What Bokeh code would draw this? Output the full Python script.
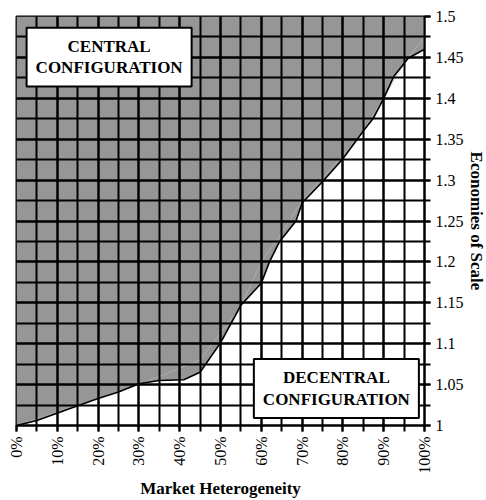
import math
from bokeh.plotting import figure
from bokeh.models import FixedTicker, Label
from bokeh.embed import file_html
from bokeh.resources import INLINE

# ---- data ----
heterogeneity = [0, 5, 15, 20, 25, 30, 35, 41, 45, 50, 55, 60, 62, 64.5, 68.5, 70,
                 75, 80, 85, 87.5, 90, 92.5, 96, 100]
economies = [1.0, 1.006, 1.024, 1.033, 1.041, 1.051, 1.055, 1.056, 1.065, 1.101,
             1.147, 1.174, 1.2, 1.225, 1.25, 1.272, 1.298, 1.326, 1.36, 1.376,
             1.4, 1.427, 1.449, 1.46]

trend_x = [0, 30, 45, 55, 60, 65, 70, 80, 85, 96, 100]
trend_y = [1.0, 1.05, 1.08, 1.146, 1.2, 1.235, 1.275, 1.33, 1.36, 1.45, 1.474]

x_major = [0, 10, 20, 30, 40, 50, 60, 70, 80, 90, 100]
x_minor = [0, 5, 10, 15, 20, 25, 30, 35, 40, 45, 50, 55, 60, 65, 70, 75, 80, 85, 90, 95, 100]
x_labels = ["0%", "10%", "20%", "30%", "40%", "50%", "60%", "70%", "80%", "90%", "100%"]

y_major = [1.0, 1.05, 1.1, 1.15, 1.2, 1.25, 1.3, 1.35, 1.4, 1.45, 1.5]
y_minor = [1.0, 1.025, 1.05, 1.075, 1.1, 1.125, 1.15, 1.175, 1.2, 1.225, 1.25, 1.275,
           1.3, 1.325, 1.35, 1.375, 1.4, 1.425, 1.45, 1.475, 1.5]
y_labels = ["1", "1.05", "1.1", "1.15", "1.2", "1.25", "1.3", "1.35", "1.4", "1.45", "1.5"]

FONT = "Liberation Serif"

p = figure(frame_width=408, frame_height=409, x_range=(0, 100), y_range=(1.0, 1.5),
           y_axis_location="right", output_backend="svg", toolbar_location=None,
           min_border_left=16, min_border_top=16, min_border_right=0, min_border_bottom=0,
           background_fill_color="white", border_fill_color="white")

# gray region (central configuration) above the boundary
top = [1.5] * len(heterogeneity)
p.varea(x=heterogeneity, y1=economies, y2=top, fill_color="#969696")
p.line(x=trend_x, y=trend_y, line_color="#b9b9b9", line_width=0.7)
p.line(x=heterogeneity, y=economies, line_color="black", line_width=1.6)

xt = FixedTicker(ticks=x_major, minor_ticks=x_minor)
yt = FixedTicker(ticks=y_major, minor_ticks=y_minor)
p.xaxis.ticker = xt
p.yaxis.ticker = yt
p.xgrid.ticker = xt
p.ygrid.ticker = yt
p.xaxis.major_label_overrides = dict(zip(x_major, x_labels))
p.yaxis.major_label_overrides = dict(zip(y_major, y_labels))

for g in (p.xgrid, p.ygrid):
    g.grid_line_color = "black"
    g.grid_line_width = 2
    g.minor_grid_line_color = "black"
    g.minor_grid_line_width = 2
    g.level = "guide"

for ax in (p.xaxis, p.yaxis):
    ax.axis_line_color = "black"
    ax.axis_line_width = 2
    ax.major_tick_line_color = "black"
    ax.major_tick_line_width = 2
    ax.minor_tick_line_color = "black"
    ax.minor_tick_line_width = 2
    ax.major_tick_in = 0
    ax.major_tick_out = 6
    ax.minor_tick_in = 0
    ax.minor_tick_out = 6
    ax.major_label_text_font = FONT
    ax.major_label_text_font_size = "16px"
    ax.major_label_text_color = "black"
    ax.major_label_standoff = 5
    ax.axis_label_text_font = FONT
    ax.axis_label_text_font_size = "17px"
    ax.axis_label_text_font_style = "bold"
    ax.axis_label_text_color = "black"

p.xaxis.major_label_orientation = math.pi / 2
p.xaxis.axis_label = "Market Heterogeneity"
p.xaxis.axis_label_standoff = 2
p.yaxis.axis_label = "Economies of Scale"
p.yaxis.axis_label_standoff = 0

p.outline_line_color = "black"
p.outline_line_width = 2

for txt, cx, cy in (("CENTRAL\nCONFIGURATION", 22.7, 1.4504),
                    ("DECENTRAL\nCONFIGURATION", 78.4, 1.0452)):
    p.add_layout(Label(x=cx, y=cy, text=txt, text_align="center", text_baseline="middle",
                       text_font=FONT, text_font_size="17px", text_font_style="bold",
                       text_color="black", text_line_height=1.15,
                       background_fill_color="white", border_line_color="black",
                       border_line_width=2, padding=9))

open("out.html", "w").write(file_html(p, INLINE))
